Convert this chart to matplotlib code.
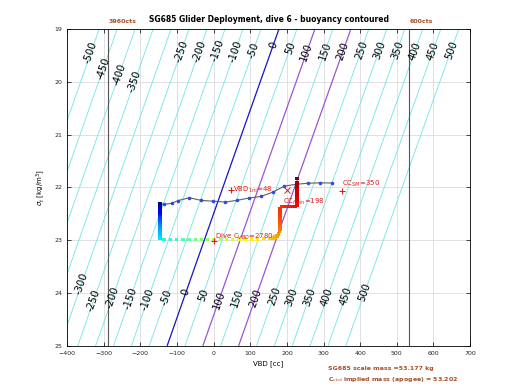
import numpy as np
import matplotlib
matplotlib.use("Agg")
import matplotlib.pyplot as plt

# glider constants
mass_g = 53177.0        # scale mass [g]
vol0_cc = 52007.0       # hull volume at VBD = 0 [cc]

levels = list(range(-500, 501, 50))
special_colors = {0: "#1414c8", 100: "#9a55d6", 200: "#9a55d6"}

# label positions (sigma along each contour)
top_label_levels = [-500, -450, -400, -350, -250, -200, -150, -100, -50, 0, 50,
                    100, 150, 200, 250, 300, 350, 400, 450, 500]
top_label_sigma = [19.45, 19.74, 19.87, 20.0, 19.42, 19.42, 19.4, 19.42, 19.4, 19.3, 19.36,
                   19.44, 19.42, 19.42, 19.4, 19.4, 19.4, 19.42, 19.42, 19.4]
bot_label_levels = [-300, -250, -200, -150, -100, -50, 0, 50, 100, 150, 200, 250,
                    300, 350, 400, 450, 500]
bot_label_sigma = [23.81, 24.13, 24.09, 24.1, 24.12, 24.08, 23.99, 24.03, 24.13, 24.1,
                   24.1, 24.05, 24.07, 24.07, 24.08, 24.05, 23.99]

# profile (grey line, blue dots)
prof_vbd = [-146.3, -135.4, -114.9, -97.2, -66.3, -34.4, -1.6, 31.1, 63.0, 95.3,
            129.4, 161.3, 192.7, 226.3, 258.5, 290.5, 321.8]
prof_sigma = [22.318, 22.318, 22.303, 22.250, 22.195, 22.246, 22.261, 22.278, 22.246,
              22.203, 22.171, 22.091, 21.977, 21.940, 21.921, 21.913, 21.917]

# dive path coloured by time
path_vbd = [-146, -146, -146, -146, -146, -146, -146, -146, -146, -146, -146, -146, -146, -146,
            -146, -146, -146, -146, -146, -146, -146, -146, -146, -146, -146, -146, -146,
            -135, -118, -101, -84, -67, -50, -33, -16, 1, 18, 35, 52, 69, 86, 103, 120, 137, 152,
            162, 168, 173, 177, 180,
            181, 181, 181, 181, 181, 181, 181, 181, 181, 181, 181,
            186, 192, 198, 204, 210, 216, 222,
            228, 228, 228, 228, 228, 228, 228, 228, 228, 228, 228, 228]
path_sigma = [22.30, 22.33, 22.35, 22.38, 22.40, 22.43, 22.45, 22.48, 22.50, 22.53, 22.55, 22.58, 22.60,
              22.63, 22.65, 22.68, 22.70, 22.73, 22.75, 22.78, 22.80, 22.83, 22.86, 22.89, 22.92, 22.95, 22.97,
              22.99, 22.99, 22.99, 22.99, 22.99, 22.99, 22.99, 22.99, 22.99, 22.99, 22.99, 22.99, 22.98, 22.98,
              22.98, 22.98, 22.97, 22.97,
              22.96, 22.94, 22.92, 22.88, 22.84,
              22.80, 22.76, 22.72, 22.68, 22.64, 22.60, 22.56, 22.52, 22.48, 22.44, 22.40,
              22.36, 22.36, 22.36, 22.36, 22.36, 22.36, 22.36,
              22.33, 22.29, 22.25, 22.21, 22.17, 22.13, 22.09, 22.05, 22.01, 21.96, 21.91, 21.83]
path_time = [5, 6.5, 8, 9.5, 11, 12.5, 14, 15.5, 17, 18.5, 20, 21.5, 23, 24.5, 26, 27, 28, 29, 30, 31, 32, 33,
             34, 35, 36, 37, 38,
             41, 43, 45, 47, 49, 51, 53, 55, 57, 59, 61, 63, 65, 66, 67, 68, 69, 70,
             72, 73.5, 75, 76.5, 78,
             79, 80, 81, 82, 83, 84, 84.5, 85, 85.5, 86, 86.5,
             87, 87.5, 88, 88.5, 89, 89.5, 90,
             90.5, 91, 91.5, 92, 92.5, 93, 93.5, 94, 95, 96, 97, 100]

vbd_lines = [-288, 534]
vbd_line_labels = ["3960cts", "600cts"]

fig = plt.figure(figsize=(5.2, 3.9), dpi=100)
ax = fig.add_axes([0.129, 0.113, 0.775, 0.813])
ax.set_xlim(-400, 700)
ax.set_ylim(25, 19)

vv = np.linspace(-400, 700, 221)
ss = np.linspace(19, 25, 121)
V, S = np.meshgrid(vv, ss)
B = (vol0_cc + V) * (1 + S / 1000.0) - mass_g

colors = [special_colors.get(l, "#6fe4e6") for l in levels]
widths = [0.9 if l in special_colors else 0.6 for l in levels]
ax.contour(V, S, B, levels=levels, colors=colors, linewidths=widths)


def vbd_at(level, sigma):
    return (mass_g + level) / (1 + sigma / 1000.0) - vol0_cc


def label_line(level, sigma):
    x, y = vbd_at(level, sigma), sigma
    p1 = ax.transData.transform((vbd_at(level, sigma + 0.2), sigma + 0.2))
    p2 = ax.transData.transform((vbd_at(level, sigma - 0.2), sigma - 0.2))
    ang = np.degrees(np.arctan2(p2[1] - p1[1], p2[0] - p1[0]))
    ax.text(x, y, f"{level}", rotation=ang, rotation_mode="anchor",
            ha="center", va="center", fontsize=7.2, color="k", zorder=3)


for l, s in zip(top_label_levels, top_label_sigma):
    label_line(l, s)
for l, s in zip(bot_label_levels, bot_label_sigma):
    label_line(l, s)

for x in vbd_lines:
    ax.axvline(x, color="#555555", lw=0.8)
for x, lab in zip(vbd_lines, vbd_line_labels):
    ax.text(x, 18.9, lab, color="#a8502a", fontsize=4.5, fontweight="bold",
            ha="left", va="bottom")

ax.plot(prof_vbd, prof_sigma, color="#606060", lw=0.8, zorder=4)
ax.plot(prof_vbd, prof_sigma, "o", color="#2a4ee0", ms=2.6, mec="none", zorder=5)

ax.scatter(path_vbd, path_sigma, c=path_time, cmap="jet", s=6, marker="s",
           edgecolors="none", zorder=6)

red = "#dd1c1c"
ax.plot(48, 22.05, "+", color=red, ms=5, mew=0.8, zorder=7)
ax.text(52, 22.05, "VBD$_{1m}$=48", color=red, fontsize=5, va="center", zorder=7)
ax.plot(199.5, 22.05, "x", color=red, ms=4, mew=0.7, zorder=7)
ax.text(188, 22.28, "CC$_{fmin}$=198", color=red, fontsize=5, va="center", zorder=7)
ax.plot(350, 22.06, "+", color=red, ms=5, mew=0.8, zorder=7)
ax.text(350, 21.93, "CC$_{SM}$=350", color=red, fontsize=5, va="center", zorder=7)
ax.plot(2, 23.01, "+", color=red, ms=5, mew=0.8, zorder=7)
ax.text(4, 22.94, "Dive C$_{VBD}$=2780", color=red, fontsize=5, va="center", zorder=7)

ax.set_xticks(range(-400, 701, 100))
ax.set_yticks(range(19, 26))
ax.grid(True, color="#dcdcdc", lw=0.6)
ax.set_axisbelow(True)
ax.tick_params(direction="in", top=True, right=True, labelsize=4.5, length=3,
               width=0.6, colors="#262626")
for sp in ax.spines.values():
    sp.set_linewidth(0.6)

ax.set_title("SG685 Glider Deployment, dive 6 - buoyancy contoured", fontsize=5.5,
             fontweight="bold", pad=5)
ax.set_xlabel("VBD [cc]", fontsize=5, labelpad=3)
ax.set_ylabel("$\\sigma_t$ [kg/m$^3$]", fontsize=5, labelpad=5)

fig.text(0.631, 0.054, "SG685 scale mass =53.177 kg", color="#a8502a", fontsize=4.5,
         fontweight="bold", va="center")
fig.text(0.631, 0.026, "C$_{vbd}$ implied mass (apogee) = 53.202", color="#a8502a",
         fontsize=4.5, fontweight="bold", va="center")

fig.savefig("out.png", dpi=100)
